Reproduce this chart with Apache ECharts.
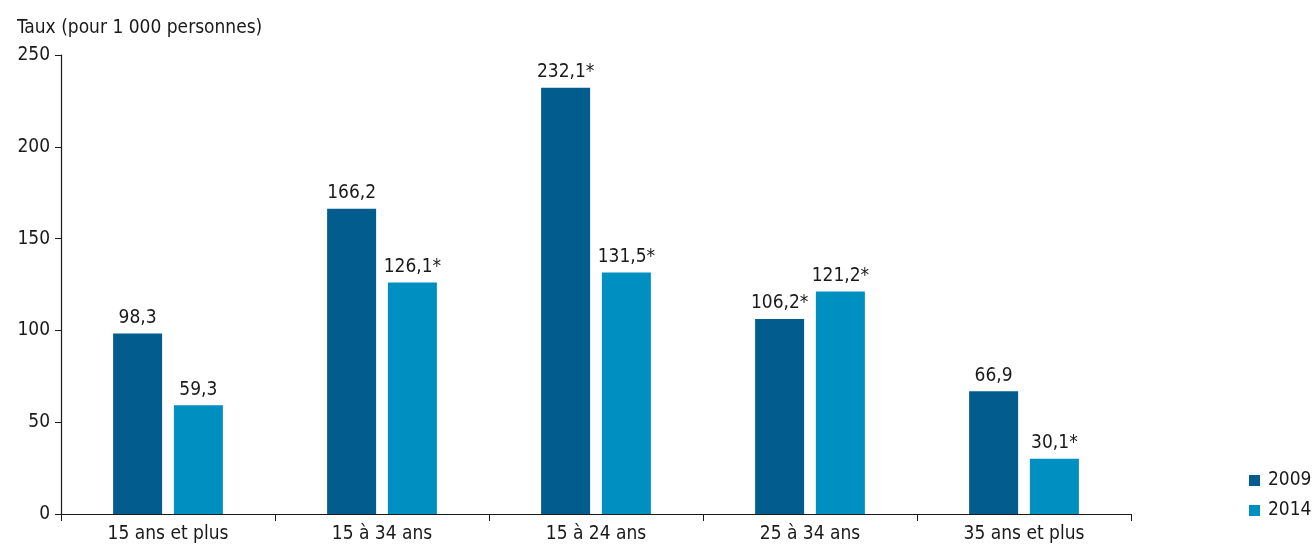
<!DOCTYPE html>
<html><head><meta charset="utf-8">
<script src="https://cdn.jsdelivr.net/npm/echarts@6/dist/echarts.min.js"></script>
<style>html,body{margin:0;padding:0;background:#fff}#c{width:1312px;height:544px}</style>
</head><body><div id="c"></div>
<script>
const categories = ['15 ans et plus', '15 à 34 ans', '15 à 24 ans', '25 à 34 ans', '35 ans et plus'];
const values2009 = [98.3, 166.2, 232.1, 106.2, 66.9];
const star2009 = [false, false, true, true, false];
const values2014 = [59.3, 126.1, 131.5, 121.2, 30.1];
const star2014 = [false, true, true, true, true];
const yTicks = [0, 50, 100, 150, 200, 250];

const FONT = '"Liberation Sans Narrow", "DejaVu Sans Condensed", "Roboto Condensed", sans-serif';
const fmt = (v, s) => v.toFixed(1).replace('.', ',') + (s ? '*' : '');

const chart = echarts.init(document.getElementById('c'));
chart.setOption({
  animation: false,
  textStyle: { fontFamily: FONT },
  title: {
    text: 'Taux (pour 1 000 personnes)', left: 12, top: 14,
    textStyle: { fontFamily: FONT, fontSize: 19, fontWeight: 'normal', color: '#1a1a1a' }
  },
  legend: {
    orient: 'vertical', left: 1244, top: 466, itemWidth: 11, itemHeight: 11, itemGap: 11,
    icon: 'rect',
    textStyle: { fontFamily: FONT, fontSize: 19, color: '#1a1a1a', padding: [0, 0, 0, 3] },
    data: ['2009', '2014']
  },
  grid: { left: 61, right: 181, top: 55, bottom: 30, containLabel: false },
  xAxis: {
    type: 'category', data: categories,
    axisLine: { lineStyle: { color: '#1a1a1a', width: 1.2 } },
    axisTick: { show: true, length: 7, lineStyle: { color: '#1a1a1a' } },
    axisLabel: { fontFamily: FONT, fontSize: 19, color: '#1a1a1a', margin: 11 }
  },
  yAxis: {
    type: 'value', min: yTicks[0], max: yTicks[yTicks.length - 1], interval: 50,
    splitLine: { show: false },
    axisLine: { show: true, lineStyle: { color: '#1a1a1a', width: 1.2 } },
    axisTick: { show: true, length: 6, lineStyle: { color: '#1a1a1a' } },
    axisLabel: { fontFamily: FONT, fontSize: 19, color: '#1a1a1a', margin: 11 }
  },
  series: [
    {
      name: '2009', type: 'bar', barWidth: 49, barGap: '24%',
      itemStyle: { color: '#025c8e' },
      data: values2009,
      label: { show: true, position: 'top', distance: 6, fontFamily: FONT, fontSize: 19, color: '#1a1a1a',
        formatter: p => fmt(p.value, star2009[p.dataIndex]) }
    },
    {
      name: '2014', type: 'bar', barWidth: 49,
      itemStyle: { color: '#008fc1' },
      data: values2014,
      label: { show: true, position: 'top', distance: 6, fontFamily: FONT, fontSize: 19, color: '#1a1a1a',
        formatter: p => fmt(p.value, star2014[p.dataIndex]) }
    }
  ]
});
</script></body></html>
